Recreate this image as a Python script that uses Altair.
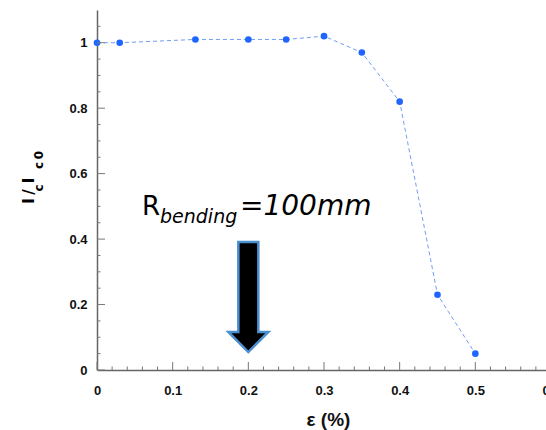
import altair as alt
import pandas as pd

# ---- data ----
strain = [0.0, 0.03, 0.13, 0.2, 0.25, 0.3, 0.35, 0.4, 0.45, 0.5]
ic_ratio = [1.0, 1.0, 1.01, 1.01, 1.01, 1.02, 0.97, 0.82, 0.23, 0.05]

x_labels = [0, 0.1, 0.2, 0.3, 0.4, 0.5, 0.6]
x_minor = [0.02, 0.04, 0.06, 0.08, 0.12, 0.14, 0.16, 0.18, 0.22, 0.24, 0.26, 0.28,
           0.32, 0.34, 0.36, 0.38, 0.42, 0.44, 0.46, 0.48, 0.52, 0.54, 0.56, 0.58]
y_labels = [0, 0.2, 0.4, 0.6, 0.8, 1.0]
y_minor = [0.05, 0.1, 0.15, 0.25, 0.3, 0.35, 0.45, 0.5, 0.55, 0.65, 0.7, 0.75,
           0.85, 0.9, 0.95, 1.05]

arrow_x = [0.2]
arrow_y = [0.223]

df = pd.DataFrame({"strain": strain, "ic": ic_ratio})
xmaj = pd.DataFrame({"v": x_labels})
xmin = pd.DataFrame({"v": x_minor})
ymaj = pd.DataFrame({"v": y_labels})
ymin = pd.DataFrame({"v": y_minor})
arrow_df = pd.DataFrame({"x": arrow_x, "y": arrow_y})

FONT = "Liberation Sans"
xs = alt.Scale(domain=[0, 0.6], range=[0, 454], nice=False, zero=False)
ys = alt.Scale(domain=[0, 1.1], nice=False, zero=False)

line = alt.Chart(df).mark_line(
    color="#6f9ef2", strokeWidth=1, strokeDash=[4, 3]
).encode(
    x=alt.X("strain:Q", scale=xs,
            axis=alt.Axis(values=x_labels, format="~g", ticks=False, grid=False,
                          labelFlush=False,
                          domainColor="#666", domainWidth=1.5,
                          labelFont=FONT, labelFontSize=13, labelFontWeight="bold",
                          labelColor="#111", labelPadding=14,
                          title="ε (%)", titleFont=FONT, titleFontSize=19,
                          titleFontWeight="bold", titleColor="#111",
                          titleX=231, titleY=40)),
    y=alt.Y("ic:Q", scale=ys,
            axis=alt.Axis(values=y_labels, format="~g", ticks=False, grid=False,
                          domainColor="#666", domainWidth=1.5,
                          labelFont=FONT, labelFontSize=13, labelFontWeight="bold",
                          labelColor="#111", labelPadding=10, title=None)),
)

points = alt.Chart(df).mark_circle(color="#1f66ff", opacity=1, size=44).encode(
    x=alt.X("strain:Q", scale=xs), y=alt.Y("ic:Q", scale=ys)
)

tick_col = "#777"
ymaj_t = alt.Chart(ymaj).mark_rule(color=tick_col, strokeWidth=1).encode(
    y=alt.Y("v:Q", scale=ys), x=alt.value(0), x2=alt.value(8))
ymin_t = alt.Chart(ymin).mark_rule(color=tick_col, strokeWidth=1).encode(
    y=alt.Y("v:Q", scale=ys), x=alt.value(0), x2=alt.value(3.5))
xmaj_t = alt.Chart(xmaj).mark_rule(color=tick_col, strokeWidth=1).encode(
    x=alt.X("v:Q", scale=xs), y=alt.value(360), y2=alt.value(352))
xmin_t = alt.Chart(xmin).mark_rule(color=tick_col, strokeWidth=1).encode(
    x=alt.X("v:Q", scale=xs), y=alt.value(360), y2=alt.value(356.5))

# arrow pointing down at strain 0.2
arrow_path = ("M -0.182 -1 L 0.182 -1 L 0.182 0.636 L 0.364 0.636 L 0 1 "
              "L -0.364 0.636 L -0.182 0.636 Z")
arrow = alt.Chart(arrow_df).mark_point(
    shape=arrow_path, size=12100, filled=True, fill="black", fillOpacity=1,
    stroke="#4a90d0", strokeWidth=2.5, opacity=1
).encode(x=alt.X("x:Q", scale=xs), y=alt.Y("y:Q", scale=ys))

# annotation R_bending = 100mm
ann_font = "DejaVu Sans"
def txt(t, x, y, size, style="normal", weight="normal", angle=0, align="left",
        font=ann_font):
    kw = dict(text=t, fontSize=size, fontStyle=style, fontWeight=weight,
              font=font, align=align, baseline="alphabetic", color="black")
    if angle:
        kw["angle"] = angle
    return alt.Chart(df.head(1)).mark_text(**kw).encode(
        x=alt.value(x), y=alt.value(y))

ann_R = txt("R", 45, 205, 26)
ann_sub = txt("bending", 63, 213, 19, style="italic")
ann_val = txt("=100mm", 143, 205, 28, style="italic")

# y-axis title I_c / I_c0 (rotated)
YF = "DejaVu Sans"
yt1 = txt("I", -63, 191, 15, weight="bold", angle=270, align="center", font=YF)
yt2 = txt("c", -54, 178, 12, weight="bold", angle=270, align="center", font=YF)
yt3 = txt("/", -63, 182, 15, weight="bold", angle=270, align="center", font=YF)
yt4 = txt("I", -63, 170.5, 15, weight="bold", angle=270, align="center", font=YF)
yt5 = txt("c", -54, 155.5, 12, weight="bold", angle=270, align="center", font=YF)
yt6 = txt("0", -54, 145, 12, weight="bold", angle=270, align="center", font=YF)

chart = alt.layer(
    line, points, ymaj_t, ymin_t, xmaj_t, xmin_t, arrow,
    ann_R, ann_sub, ann_val, yt1, yt2, yt3, yt4, yt5, yt6
).properties(
    width=449, height=360,
    autosize=alt.AutoSizeParams(type="none"),
    padding={"left": 97, "top": 10, "right": 0, "bottom": 60},
    background="white",
).configure_view(stroke=None)

chart.save("out.html", embed_options={"renderer": "svg", "actions": False})
